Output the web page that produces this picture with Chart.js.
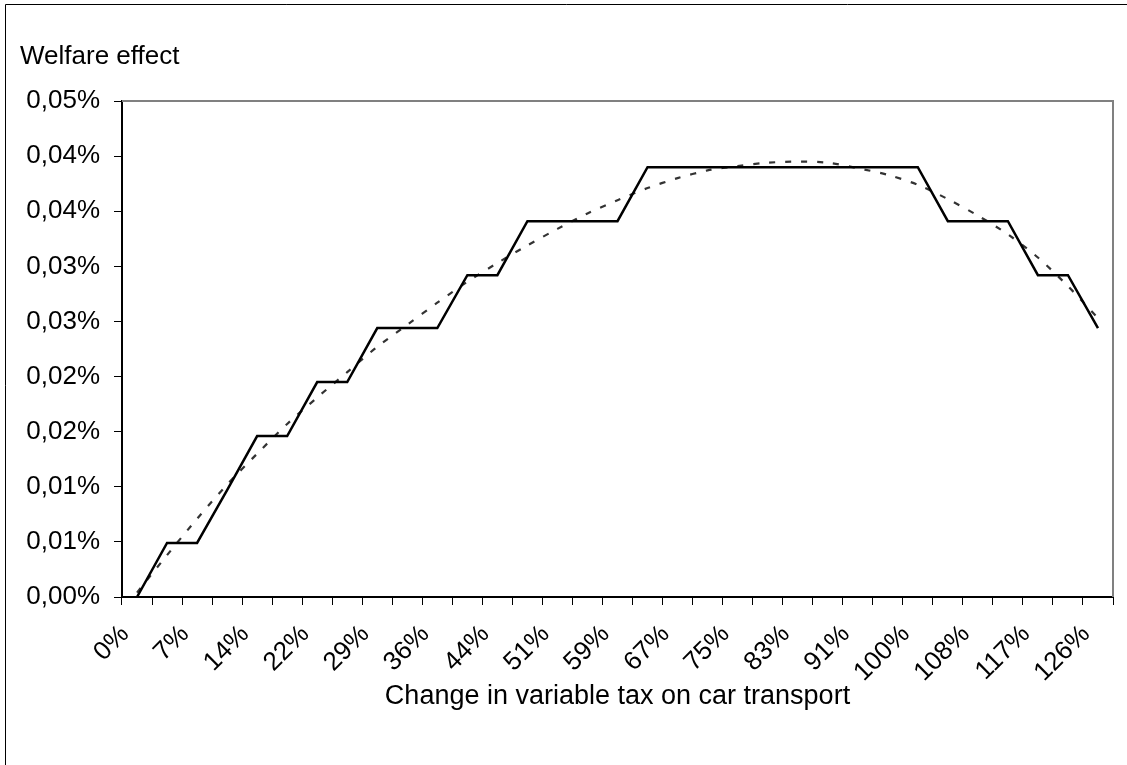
<!DOCTYPE html>
<html>
<head>
<meta charset="utf-8">
<script src="https://cdn.jsdelivr.net/npm/chart.js@4"></script>
<style>
    html, body { margin: 0; padding: 0; background: #fff; }
    canvas { display: block; }
</style>
</head>
<body>
<canvas id="chart" width="1127" height="765"></canvas>
<script>
// x labels shown under every second category
const tickLabels = ['0%', '7%', '14%', '22%', '29%', '36%', '44%', '51%', '59%',
    '67%', '75%', '83%', '91%', '100%', '108%', '117%', '126%'];

// welfare effect in percent, one value per category
const welfare = [0, 0.0049, 0.0049, 0.0097, 0.0146, 0.0146, 0.0195, 0.0195, 0.0244,
    0.0244, 0.0244, 0.0292, 0.0292, 0.0341, 0.0341, 0.0341, 0.0341, 0.0390,
    0.0390, 0.0390, 0.0390, 0.0390, 0.0390, 0.0390, 0.0390, 0.0390, 0.0390,
    0.0341, 0.0341, 0.0341, 0.0292, 0.0292, 0.0244];

// trend line (dashed)
const trend = [0.0004, 0.0038, 0.0071, 0.0102, 0.0130, 0.0157, 0.0181, 0.0204, 0.0227,
    0.0247, 0.0267, 0.0286, 0.0303, 0.0319, 0.0334, 0.0348, 0.0360, 0.0371,
    0.0380, 0.0387, 0.0391, 0.0394, 0.0395, 0.0394, 0.0389, 0.0383, 0.0374,
    0.0361, 0.0346, 0.0329, 0.0308, 0.0282, 0.0253];

const yTickLabels = ['0,00%', '0,01%', '0,01%', '0,02%', '0,02%', '0,03%', '0,03%',
    '0,04%', '0,04%', '0,05%'];

// 33 categories, labelled every second one
const categories = welfare.map((v, i) => (i % 2 === 0 ? tickLabels[i / 2] : ''));

const FONT = 'Liberation Sans, Arial, sans-serif';

const frame = {
    id: 'frame',
    afterDraw(chart) {
        const ctx = chart.ctx;
        const a = chart.chartArea;
        ctx.save();
        // outer chart border (cut off at right/bottom)
        ctx.strokeStyle = '#000';
        ctx.lineWidth = 1;
        ctx.beginPath();
        ctx.moveTo(5.5, 800);
        ctx.lineTo(5.5, 4.5);
        ctx.lineTo(1200, 4.5);
        ctx.stroke();
        // plot area top/right border
        ctx.strokeStyle = '#808080';
        ctx.lineWidth = 2;
        ctx.beginPath();
        ctx.moveTo(a.left, a.top);
        ctx.lineTo(a.right, a.top);
        ctx.lineTo(a.right, a.bottom);
        ctx.stroke();
        // y axis caption
        ctx.fillStyle = '#000';
        ctx.font = '26px ' + FONT;
        ctx.textAlign = 'left';
        ctx.textBaseline = 'middle';
        ctx.fillText('Welfare effect', 20, 57);
        ctx.restore();
    }
};

const config = {
    type: 'line',
    data: {
        labels: categories,
        datasets: [{
            label: 'Welfare effect',
            data: welfare,
            borderColor: '#000',
            borderWidth: 2.5,
            pointRadius: 0,
            tension: 0,
            fill: false
        },
        {
            label: 'Trend',
            data: trend,
            borderColor: '#333',
            borderWidth: 2.2,
            borderDash: [6, 10],
            pointRadius: 0,
            tension: 0.3,
            fill: false
        }]
    },
    options: {
        responsive: false,
        animation: false,
        layout: {
            padding: { top: 101, right: 14, left: 0, bottom: 0 }
        },
        plugins: {
            legend: { display: false },
            tooltip: { enabled: false }
        },
        scales: {
            x: {
                offset: true,
                grid: {
                    offset: true,
                    drawOnChartArea: false,
                    drawTicks: true,
                    tickLength: 8,
                    color: '#000',
                    lineWidth: 1
                },
                border: { display: true, color: '#000', width: 2 },
                ticks: {
                    autoSkip: false,
                    minRotation: 45,
                    maxRotation: 45,
                    padding: 14,
                    labelOffset: -12,
                    color: '#000',
                    font: { family: FONT, size: 26 }
                },
                title: {
                    display: true,
                    text: 'Change in variable tax on car transport',
                    color: '#000',
                    font: { family: FONT, size: 27 },
                    padding: { top: 0, bottom: 52 }
                },
                afterFit(scale) {
                    scale.height = 168;
                    scale.paddingLeft = 0;
                    scale.paddingRight = 0;
                }
            },
            y: {
                min: 0,
                max: 0.045,
                ticks: {
                    stepSize: 0.005,
                    padding: 14,
                    color: '#000',
                    font: { family: FONT, size: 26 },
                    callback: (v, i) => yTickLabels[i]
                },
                grid: {
                    drawOnChartArea: false,
                    drawTicks: true,
                    tickLength: 8,
                    color: '#000',
                    lineWidth: 1
                },
                border: { display: true, color: '#000', width: 2 },
                afterFit(scale) {
                    scale.width = 122;
                    scale.paddingTop = 0;
                    scale.paddingBottom = 0;
                }
            }
        }
    },
    plugins: [frame]
};

new Chart(document.getElementById('chart'), config);
</script>
</body>
</html>
